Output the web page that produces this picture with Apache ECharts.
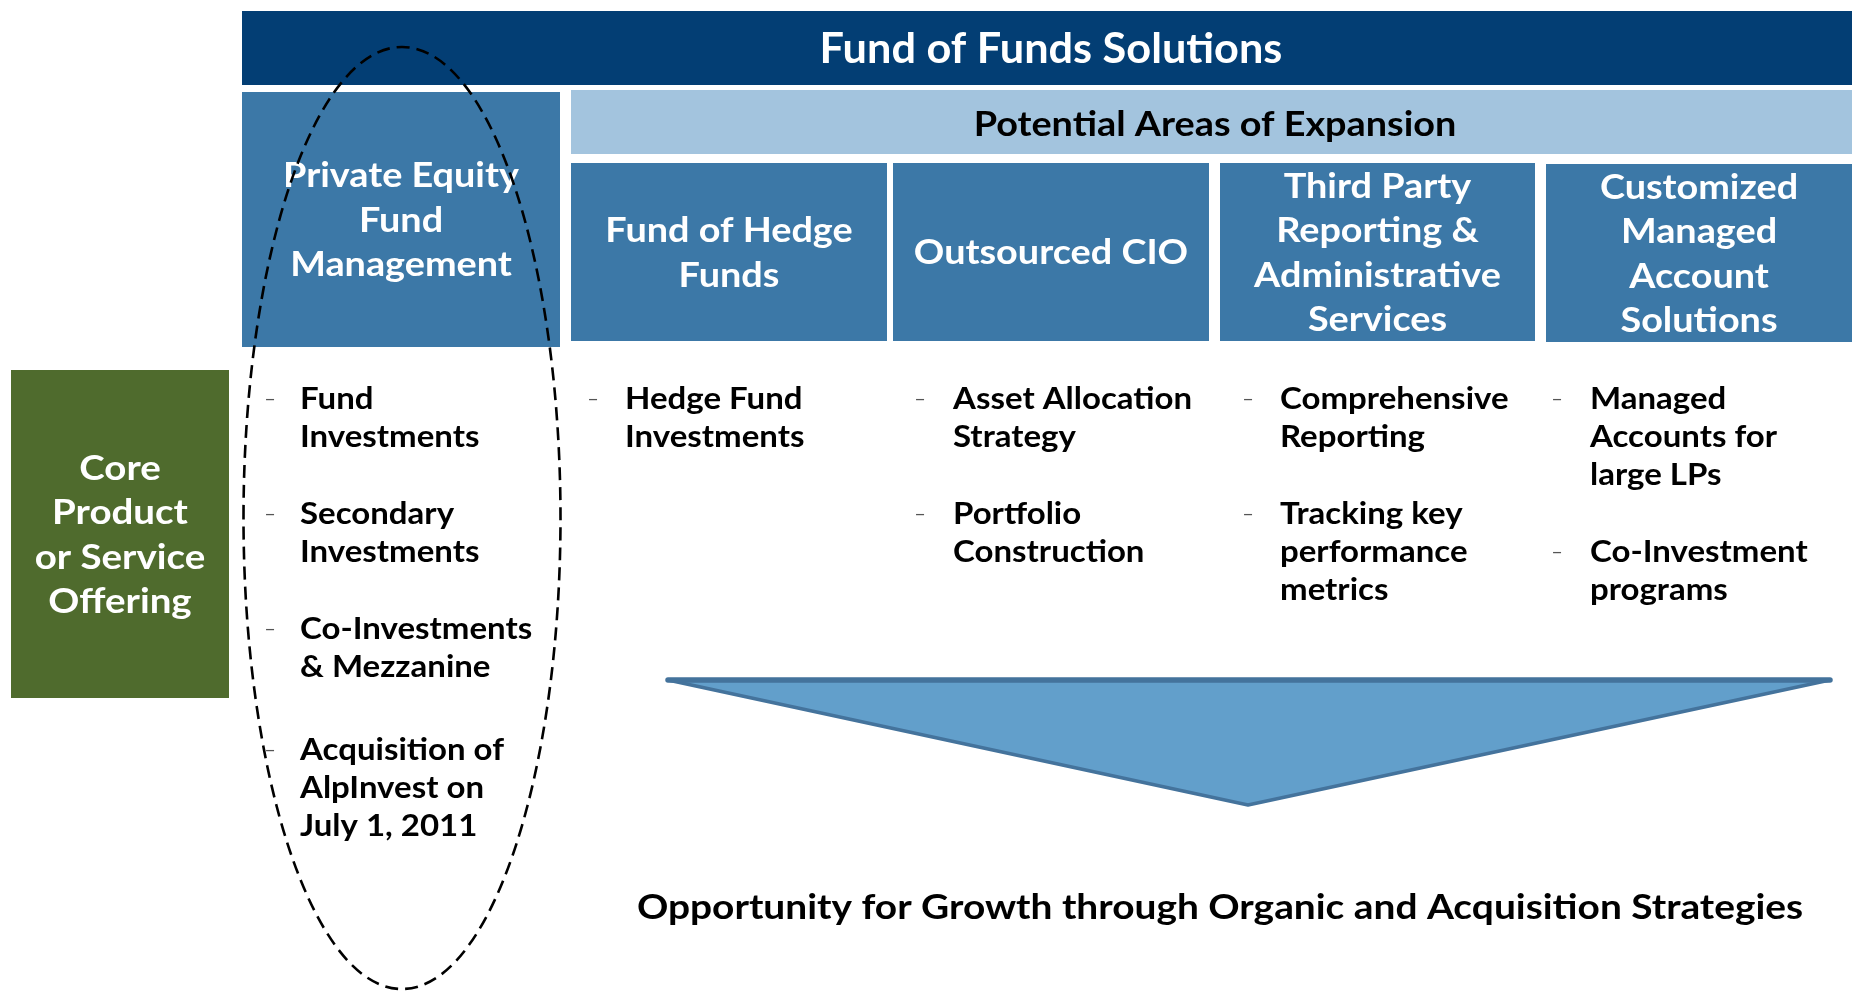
<!DOCTYPE html>
<html>
<head>
<meta charset="utf-8">
<style>
  html, body { margin: 0; padding: 0; background: #ffffff; }
  #chart { width: 1852px; height: 993px; }
</style>
<script src="https://cdn.jsdelivr.net/npm/echarts@6/dist/echarts.min.js"></script>
</head>
<body>
<div id="chart"></div>
<script>
// ---------- content ----------
const mainTitle = 'Fund of Funds Solutions';
const expansionTitle = 'Potential Areas of Expansion';
const coreLabel = ['Core', 'Product', 'or Service', 'Offering'];
const columnHeaders = [
  ['Private Equity', 'Fund', 'Management'],
  ['Fund of Hedge', 'Funds'],
  ['Outsourced CIO'],
  ['Third Party', 'Reporting &', 'Administrative', 'Services'],
  ['Customized', 'Managed', 'Account', 'Solutions']
];
const privateEquityBullets = [
  ['Fund', 'Investments'],
  ['Secondary', 'Investments'],
  ['Co-Investments', '& Mezzanine'],
  ['Acquisition of', 'AlpInvest on', 'July 1, 2011']
];
const hedgeFundBullets = [['Hedge Fund', 'Investments']];
const outsourcedCioBullets = [['Asset Allocation', 'Strategy'], ['Portfolio', 'Construction']];
const thirdPartyBullets = [['Comprehensive', 'Reporting'], ['Tracking key', 'performance', 'metrics']];
const customizedBullets = [['Managed', 'Accounts for', 'large LPs'], ['Co-Investment', 'programs']];
const footerText = 'Opportunity for Growth through Organic and Acquisition Strategies';

// ---------- layout ----------
const FONT = 'Lato, "Noto Sans", sans-serif';
const C = {
  dark: '#033E74', mid: '#3C78A7', light: '#A3C4DE', green: '#4F6B2D',
  triFill: '#629FCB', triStroke: '#44739C'
};
const boxes = [
  { x: 242, y: 92, w: 318, h: 255 },
  { x: 571, y: 163, w: 316, h: 178 },
  { x: 893, y: 163, w: 316, h: 178 },
  { x: 1220, y: 163, w: 315, h: 178 },
  { x: 1546, y: 164, w: 306, h: 178 }
];
const bulletCols = [
  { dashX: 270, textX: 300, items: privateEquityBullets, gaps: [39, 39, 45] },
  { dashX: 593, textX: 625, items: hedgeFundBullets, gaps: [39] },
  { dashX: 920, textX: 953, items: outsourcedCioBullets, gaps: [39, 39] },
  { dashX: 1248, textX: 1280, items: thirdPartyBullets, gaps: [39, 39] },
  { dashX: 1557, textX: 1590, items: customizedBullets, gaps: [39, 39] }
];
const bulletTop = 399, bulletLine = 38;

const els = [];
function txt(s, x, y, size, color, weight, align, sx) {
  els.push({
    type: 'text', z: 10, x: x, y: y, scaleX: sx || 1,
    style: {
      text: s, x: 0, y: 0, fill: color,
      font: (weight || 'normal') + ' ' + size + 'px ' + FONT,
      textAlign: align || 'center', textVerticalAlign: 'middle'
    }
  });
}
function rect(x, y, w, h, color) {
  els.push({ type: 'rect', z: 1, shape: { x: x, y: y, width: w, height: h }, style: { fill: color } });
}
function centeredLines(lines, cx, cy, size, lh, color, weight, sx) {
  const n = lines.length;
  lines.forEach(function (l, i) {
    txt(l, cx, cy + (i - (n - 1) / 2) * lh, size, color, weight, 'center', sx);
  });
}

// top bars
rect(242, 11, 1610, 74, C.dark);
txt(mainTitle, 1051, 49, 42, '#ffffff', 'bold', 'center', 1.03);
rect(571, 90, 1281, 64, C.light);
txt(expansionTitle, 1215, 125, 35, '#000000', 'bold', 'center', 1.08);

// column header boxes
boxes.forEach(function (b, i) {
  rect(b.x, b.y, b.w, b.h, C.mid);
  centeredLines(columnHeaders[i], b.x + b.w / 2, b.y + b.h / 2 + 1, 35, 44.5, '#ffffff', 'bold', 1.08);
});

// core box
rect(11, 370, 218, 328, C.green);
centeredLines(coreLabel, 120, 535, 35, 44.5, '#ffffff', 'bold', 1.1);

// bullets
bulletCols.forEach(function (col) {
  let y = bulletTop;
  col.items.forEach(function (item, j) {
    txt('\u2013', col.dashX, y, 20, '#555555', 'normal', 'center', 1);
    item.forEach(function (line, k) {
      txt(line, col.textX, y + k * bulletLine, 30, '#000000', 'bold', 'left', 1.1);
    });
    y += item.length * bulletLine + col.gaps[j];
  });
});

// arrow triangle
els.push({
  type: 'polygon', z: 5,
  shape: { points: [[668, 680], [1830, 680], [1248, 805]] },
  style: { fill: C.triFill, stroke: C.triStroke, lineWidth: 3.5, lineJoin: 'round' }
});
els.push({
  type: 'line', z: 6,
  shape: { x1: 668, y1: 680, x2: 1830, y2: 680 },
  style: { stroke: C.triStroke, lineWidth: 5.5, lineCap: 'round' }
});

// footer
txt(footerText, 1220, 908, 35, '#000000', 'bold', 'center', 1.11);

// dashed ellipse
els.push({
  type: 'ellipse', z: 20,
  shape: { cx: 402, cy: 518, rx: 158.5, ry: 471 },
  style: { fill: 'none', stroke: '#000000', lineWidth: 2.6, lineDash: [13, 7] }
});

const chart = echarts.init(document.getElementById('chart'), null, { renderer: 'canvas' });
chart.setOption({ animation: false, graphic: { elements: els } });
</script>
</body>
</html>
